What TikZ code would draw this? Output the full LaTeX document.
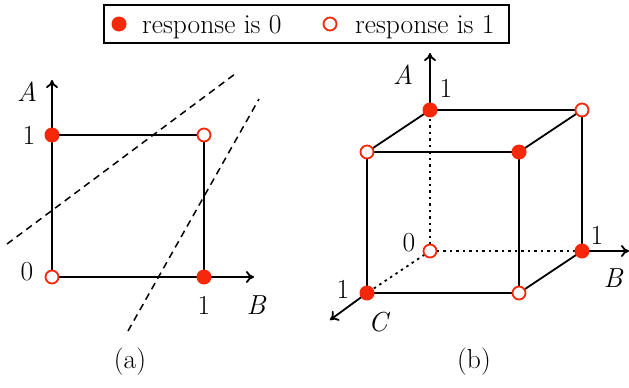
\documentclass[tikz,border=0pt]{standalone}
\usepackage{fontspec}
\setmainfont{Latin Modern Roman}
\usetikzlibrary{arrows.meta}
\definecolor{dotred}{RGB}{245,40,10}
\begin{document}
\begin{tikzpicture}[x=1pt,y=-1pt,
  every node/.style={font=\fontsize{27.5}{32}\selectfont, inner sep=0pt},
  zero/.style={circle, fill=dotred, minimum size=15pt},
  one/.style={circle, draw=dotred, fill=white, line width=1.8pt, minimum size=13pt},
  edge/.style={line width=1.8pt},
  axis/.style={line width=1.8pt, -{To[length=8pt,width=12pt]}},
  sep/.style={line width=1.5pt, dash pattern=on 7pt off 5pt},
  hidden/.style={line width=1.8pt, dash pattern=on 2.5pt off 4pt},
  lbl/.style={anchor=center}]
\useasboundingbox (0,0) rectangle (629,388);
% legend
\node[draw, line width=1.2pt, minimum width=405pt, minimum height=38pt] (legend) at (306.5,24) {};
\node[zero] (lz) at (119,24) {};
\node[lbl, anchor=base west] (lzt) at (142,33) {response is 0};
\node[one] (lo) at (330,24) {};
\node[lbl, anchor=base west] (lot) at (355,33) {response is 1};
% panel (a)
\coordinate (a00) at (52,277);
\coordinate (a10) at (204,277);
\coordinate (a01) at (52,135);
\coordinate (a11) at (204,135);
\coordinate (aAtip) at (52,80);
\coordinate (aBtip) at (254,277);
\draw[axis] (a00) -- (aAtip);
\draw[axis] (a00) -- (aBtip);
\draw[edge] (a01) -- (a11) -- (a10);
\coordinate (s1a) at (7,244);
\coordinate (s1b) at (235,74);
\coordinate (s2a) at (128,331);
\coordinate (s2b) at (259,99);
\draw[sep] (s1a) -- (s1b);
\draw[sep] (s2a) -- (s2b);
\node[one] (pa00) at (a00) {};
\node[zero] (pa10) at (a10) {};
\node[zero] (pa01) at (a01) {};
\node[one] (pa11) at (a11) {};
\node[lbl] (laA) at (27,92) {\itshape A};
\node[lbl] (la1y) at (29,135) {1};
\node[lbl] (la0) at (27,272) {0};
\node[lbl] (la1x) at (204,305) {1};
\node[lbl] (laB) at (256,305) {\itshape B};
\node[lbl] (capa) at (130,362) {(a)};
% panel (b)
\coordinate (O) at (430,251);
\coordinate (Bp) at (582,251);
\coordinate (Cp) at (367,293);
\coordinate (Ap) at (430,110);
\coordinate (AC) at (367,152);
\coordinate (AB) at (582,110);
\coordinate (ABC) at (519,152);
\coordinate (BC) at (519,293);
\coordinate (bAtip) at (430,53);
\coordinate (bBtip) at (629,251);
\coordinate (bCtip) at (330,320);
\draw[hidden] (O) -- (Ap);
\draw[hidden] (O) -- (Bp);
\draw[hidden] (O) -- (Cp);
\draw[axis] (Ap) -- (bAtip);
\draw[axis] (Bp) -- (bBtip);
\draw[axis] (Cp) -- (bCtip);
\draw[edge] (Ap) -- (AB) -- (ABC) -- (AC) -- cycle;
\draw[edge] (AC) -- (Cp) -- (BC) -- (ABC);
\draw[edge] (AB) -- (Bp) -- (BC);
\node[one] (nO) at (O) {};
\node[zero] (nA) at (Ap) {};
\node[zero] (nB) at (Bp) {};
\node[zero] (nC) at (Cp) {};
\node[one] (nAB) at (AB) {};
\node[one] (nAC) at (AC) {};
\node[one] (nBC) at (BC) {};
\node[zero] (nABC) at (ABC) {};
\node[lbl] (lbA) at (403,75) {\itshape A};
\node[lbl] (lbA1) at (446,88) {1};
\node[lbl] (lb0) at (409,243) {0};
\node[lbl] (lbB1) at (597,235) {1};
\node[lbl] (lbB) at (613,278) {\itshape B};
\node[lbl] (lbC1) at (343,289) {1};
\node[lbl] (lbC) at (378,322) {\itshape C};
\node[lbl] (capb) at (474,362) {(b)};
\end{tikzpicture}
\end{document}
